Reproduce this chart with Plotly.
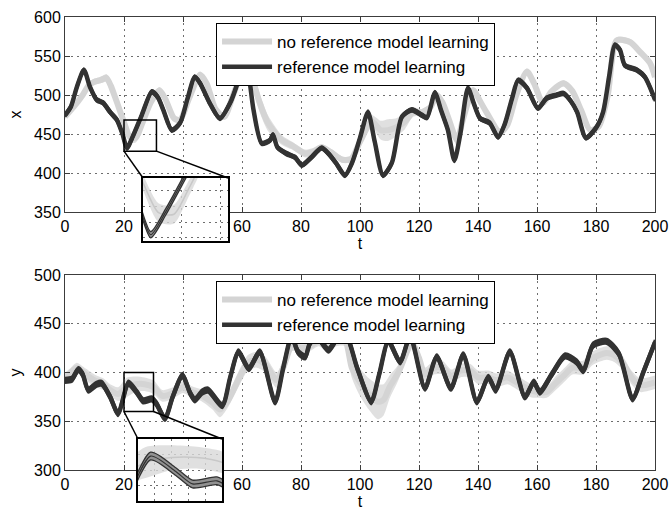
import plotly.graph_objects as go

# ---- state x: reference-model learning (dark) and plain learning (grey) ----
t_x_ref = [0, 2, 4, 6.4, 8.5, 10.7, 12.9, 15.3, 17.6, 19.5, 21, 23, 26, 29.4, 31.5,
           33.3, 36.2, 39, 41.5, 44, 45.8, 49, 52.5, 56, 58.8, 61, 62.5, 63.9, 66.7,
           69.5, 70.5, 72, 75, 78, 80.3, 83.5, 87, 89.5, 92, 94.9, 97.3, 100, 102.7,
           105, 107.8, 110.8, 114.2, 117.6, 121, 122.7, 125.4, 127.5, 129.8, 132, 134,
           136.6, 138.5, 140.7, 144, 146.8, 149, 151.5, 153.6, 156.6, 160.3, 163.3,
           166.7, 169, 171.5, 173.6, 176.6, 180.2, 182.4, 184.5, 186.4, 188.1, 189.8,
           193.9, 196.6, 200]
x_ref = [474, 485, 510, 532, 510, 494, 490, 478, 468, 450, 432, 447, 474, 504, 497,
         481, 455, 464, 495, 523, 515, 490, 470, 490, 519, 548, 520, 481, 438,
         442, 449, 433, 425, 420, 410, 420, 432, 424, 412, 397, 413, 445, 478,
         440, 397, 413, 472, 481, 474, 471, 503, 480, 455, 416, 450,
         509, 490, 470, 464, 446, 462, 495, 519, 509, 483, 496,
         500, 502, 492, 478, 445, 459, 478, 525, 564, 558, 538,
         532, 523, 494]
x_ref_spread = 2.0

t_x_noref = [0, 3, 6, 8, 10, 12, 14, 15.5, 17, 20, 22, 24, 26, 29, 32, 34, 37, 39, 42,
             45.8, 48, 51, 54, 57, 60, 62, 64.4, 66, 68.8, 73.6, 77, 81.4, 84, 87, 90,
             94, 97, 100, 104, 107, 109.5, 112, 115, 118, 121, 124, 126, 128, 130,
             132.9, 135, 138.3, 141, 143, 147.5, 150, 153, 156.6, 159, 162, 165, 169,
             172, 175, 178, 181, 184, 187, 191.5, 195, 198.3, 200]
x_noref = [472, 485, 500, 512, 517, 519, 522, 512, 497, 465, 446, 445, 462, 490, 506,
           495, 470, 468, 495, 526, 515, 482, 472, 500, 530, 545, 510, 490, 464, 442,
           435, 425, 427, 433, 427, 417, 418, 440, 466, 455, 455, 458, 465, 478, 478,
           485, 500, 490, 470, 442, 470, 506, 490, 477, 452, 462, 500, 530, 515, 490,
           505, 515, 505, 480, 455, 460, 500, 570, 568, 555, 541, 523]
x_noref_spread = [3, 3, 4, 4, 4, 4, 5, 5, 5, 5, 6, 6, 5, 4, 4, 4, 4, 4, 4, 4,
                  4, 4, 4, 4, 5, 8, 12, 12, 10, 6, 5, 5, 5, 4, 4, 4, 4, 5, 8, 12,
                  14, 12, 10, 6, 4, 4, 4, 4, 5, 8, 6, 4, 4, 4, 5, 4, 4, 4, 4, 5,
                  4, 4, 4, 4, 4, 4, 4, 4, 4, 4, 4, 4]

# ---- state y ----
t_y_ref = [0, 2.3, 4.5, 6, 7.9, 10.7, 12.4, 15.3, 18, 21.5, 24.5, 26.5, 29.4, 31, 33.9,
           36.5, 39.8, 42.4, 44, 46.5, 48.5, 53.3, 56, 58.8, 62.3, 66, 71.2, 74, 76.8,
           79, 81.4, 83, 85.3, 89.3, 93.2, 95.5, 99, 103.8, 106.5, 109.6, 113.6, 117,
           122, 126, 130.8, 135, 139.6, 143.5, 146, 150.8, 155.9, 158.9, 161, 165,
           169.5, 173.4, 175.7, 179, 183.6, 187.8, 192.4, 196, 200]
y_ref = [392, 393, 403, 398, 382, 388, 389, 375, 358, 389, 379, 371, 373, 368, 353,
         375, 397, 379, 372, 380, 382, 366, 395, 421, 404, 421, 370, 405, 437,
         421, 416, 430, 437, 423, 439, 437, 405, 370, 398, 432, 411, 437,
         384, 416, 384, 418, 370, 395, 382, 421, 375, 390, 380, 398,
         417, 411, 402, 428, 432, 419, 373, 400, 431]
y_ref_spread = 2.5

t_y_noref = [0, 2, 4, 7, 10, 13, 15.3, 18, 21, 24, 27, 30, 33, 36, 40, 43, 46, 50, 52.5,
             55, 59.3, 62, 65, 68, 71.8, 74, 77, 80, 83, 86, 89, 92, 95, 97.2, 100, 103,
             106, 108, 110, 113, 117.6, 120, 122, 125, 128, 131, 134, 137.3, 140, 143.5,
             146.3, 150, 153, 157.6, 160, 163.3, 166, 168.8, 172, 175.6, 179, 183.6,
             186, 189, 192, 195, 200]
y_noref = [395, 400, 405, 398, 392, 388, 382, 378, 385, 388, 388, 385, 376, 378, 385,
           380, 377, 369, 362, 370, 396, 410, 413, 408, 392, 405, 428, 425, 427, 432,
           426, 432, 432, 405, 390, 378, 370, 372, 385, 400, 430, 415, 398, 405, 405,
           396, 402, 402, 395, 395, 392, 395, 390, 382, 380, 380, 388, 396, 405, 405,
           415, 420, 418, 410, 395, 387, 390]
y_noref_spread = [5, 5, 5, 6, 6, 6, 6, 7, 10, 8, 7, 7, 6, 6, 6, 6, 6, 7, 8, 7,
                  8, 8, 8, 8, 8, 8, 6, 5, 5, 5, 5, 5, 5, 10, 14, 16, 18, 16, 12, 8,
                  5, 6, 7, 7, 7, 7, 7, 7, 7, 7, 7, 7, 7, 7, 6, 6, 7, 7, 7, 7,
                  7, 7, 7, 7, 7, 7, 7]

t_ticks = list(range(0, 201, 20))
x_ticks = [350, 400, 450, 500, 550, 600]
y_ticks = [300, 350, 400, 450, 500]

# zoom windows shown in the insets: (t range, value range)
x_zoom = ([20, 31], [428, 468])
y_zoom = ([20, 30], [360, 400])

DARK = "rgb(50,50,50)"
GREY = "rgb(212,212,212)"
GREY_BAND = "rgba(216,216,216,0.8)"
MID = "rgb(145,145,145)"
FONT = "Liberation Sans, Arial, sans-serif"

fig = go.Figure()


def add_series(t_no, v_no, s_no, t_ref, v_ref, s_ref, xa, ya, inset, legend):
    spl = dict(shape="spline", smoothing=0.7)
    common = dict(xaxis=xa, yaxis=ya, mode="lines", hoverinfo="skip")
    lo = [v - s for v, s in zip(v_no, s_no)]
    hi = [v + s for v, s in zip(v_no, s_no)]
    fig.add_trace(go.Scatter(x=t_no, y=lo, line=dict(width=0, color=GREY, **spl),
                             showlegend=False, **common))
    fig.add_trace(go.Scatter(x=t_no, y=hi, line=dict(width=0, color=GREY, **spl),
                             fill="tonexty", fillcolor=GREY_BAND, showlegend=False, **common))
    fig.add_trace(go.Scatter(x=t_no, y=v_no, name="no reference model learning",
                             line=dict(color="rgb(200,200,200)" if inset else GREY,
                                       width=1.5 if inset else 6, **spl),
                             showlegend=not inset, legend=legend, **common))
    r_lo = [v - s_ref for v in v_ref]
    r_hi = [v + s_ref for v in v_ref]
    ew = 1.3 if inset else 2.5
    fig.add_trace(go.Scatter(x=t_ref, y=r_lo, line=dict(color=DARK, width=ew, **spl),
                             showlegend=False, **common))
    fig.add_trace(go.Scatter(x=t_ref, y=r_hi, line=dict(color=DARK, width=ew, **spl),
                             fill="tonexty", fillcolor=MID if inset else DARK,
                             showlegend=False, **common))
    fig.add_trace(go.Scatter(x=t_ref, y=v_ref, name="reference model learning",
                             line=dict(color=DARK, width=1.2 if inset else 4.5, **spl),
                             showlegend=not inset, legend=legend, **common))


add_series(t_x_noref, x_noref, x_noref_spread, t_x_ref, x_ref, x_ref_spread, "x", "y", False, "legend")
add_series(t_y_noref, y_noref, y_noref_spread, t_y_ref, y_ref, y_ref_spread, "x2", "y2", False, "legend2")
add_series(t_x_noref, x_noref, x_noref_spread, t_x_ref, x_ref, x_ref_spread, "x3", "y3", True, "legend")
add_series(t_y_noref, y_noref, y_noref_spread, t_y_ref, y_ref, y_ref_spread, "x4", "y4", True, "legend2")

grid = dict(showgrid=True, gridcolor="rgb(110,110,110)", griddash="2px,4px", gridwidth=1,
            zeroline=False)
main_ax = dict(showline=True, linecolor="rgb(60,60,60)", linewidth=1, mirror="ticks",
               ticks="inside", ticklen=5, tickcolor="rgb(60,60,60)",
               tickfont=dict(size=16, color="black", family=FONT), automargin=False, **grid)
inset_ax = dict(showline=True, linecolor="black", linewidth=2, mirror=True, ticks="",
                showticklabels=False, automargin=False, **grid)

# panel placement
top_dom = [0.6004, 1.0]
bot_dom = [0.0717, 0.4713]
top_inset = ([0.1322, 0.2763], [0.541, 0.6701])
bot_inset = ([0.1237, 0.2661], [0.0082, 0.1352])

title_font = dict(size=16, color="black", family=FONT)
legend_style = dict(x=0.256, xanchor="left", yanchor="top", bgcolor="white",
                    bordercolor="black", borderwidth=1, font=dict(size=17, family=FONT),
                    itemwidth=50, tracegroupgap=0, traceorder="normal")
fig.update_layout(
    width=669, height=510,
    margin=dict(l=65, r=14, t=17, b=5),
    paper_bgcolor="white", plot_bgcolor="white",
    font=dict(family=FONT, color="black"),
    xaxis=dict(domain=[0, 1], anchor="y", range=[0, 200], tickvals=t_ticks,
               title=dict(text="t", font=title_font, standoff=2), **main_ax),
    yaxis=dict(domain=top_dom, anchor="x", range=[350, 600], tickvals=x_ticks,
               title=dict(text="x", font=title_font, standoff=8), **main_ax),
    xaxis2=dict(domain=[0, 1], anchor="y2", range=[0, 200], tickvals=t_ticks,
                title=dict(text="t", font=title_font, standoff=4), **main_ax),
    yaxis2=dict(domain=bot_dom, anchor="x2", range=[300, 500], tickvals=y_ticks,
                title=dict(text="y", font=title_font, standoff=8), **main_ax),
    xaxis3=dict(domain=top_inset[0], anchor="y3", range=x_zoom[0], dtick=5, **inset_ax),
    yaxis3=dict(domain=top_inset[1], anchor="x3", range=x_zoom[1], dtick=10, **inset_ax),
    xaxis4=dict(domain=bot_inset[0], anchor="y4", range=y_zoom[0], dtick=2, **inset_ax),
    yaxis4=dict(domain=bot_inset[1], anchor="x4", range=y_zoom[1], dtick=10, **inset_ax),
    legend=dict(y=0.9877, **legend_style),
    legend2=dict(y=0.459, **legend_style),
    showlegend=True,
)


def to_paper(t, v, trange, vrange, xdom, ydom):
    px = xdom[0] + (t - trange[0]) / (trange[1] - trange[0]) * (xdom[1] - xdom[0])
    py = ydom[0] + (v - vrange[0]) / (vrange[1] - vrange[0]) * (ydom[1] - ydom[0])
    return px, py


shapes = []
for zoom, xr, yr, vrange, dom, inset in [
        (x_zoom, "x", "y", [350, 600], top_dom, top_inset),
        (y_zoom, "x2", "y2", [300, 500], bot_dom, bot_inset)]:
    (t0, t1), (v0, v1) = zoom
    shapes.append(dict(type="rect", xref=xr, yref=yr, x0=t0, x1=t1, y0=v0, y1=v1,
                       line=dict(color="black", width=1.5), layer="above"))
    bl = to_paper(t0, v0, [0, 200], vrange, [0, 1], dom)
    br = to_paper(t1, v0, [0, 200], vrange, [0, 1], dom)
    ix, iy = inset
    shapes.append(dict(type="line", xref="paper", yref="paper", x0=bl[0], y0=bl[1],
                       x1=ix[0], y1=iy[1], line=dict(color="black", width=1.5)))
    shapes.append(dict(type="line", xref="paper", yref="paper", x0=br[0], y0=br[1],
                       x1=ix[1], y1=iy[1], line=dict(color="black", width=1.5)))
fig.update_layout(shapes=shapes)

fig.write_html("out.html")
